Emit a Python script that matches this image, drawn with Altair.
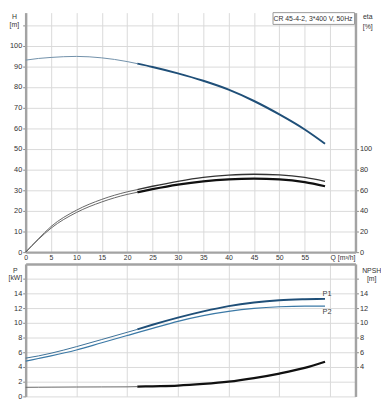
import altair as alt
import pandas as pd

# ---- data ----
q = [0, 2.5, 5, 10, 15, 20, 22, 25, 30, 35, 40, 45, 50, 55, 59]
head = [93.0, 93.8, 94.3, 94.8, 94.1, 92.3, 91.3, 89.7, 86.6, 83.0, 78.7, 73.2, 66.7, 59.4, 52.5]
eta_upper = [0, 12.8, 24.8, 40.6, 51.1, 58.4, 60.6, 63.8, 68.6, 72.4, 74.6, 75.5, 74.9, 72.4, 68.6]
eta_lower = [0, 12.3, 23.2, 38.4, 48.6, 55.9, 58.0, 61.0, 65.4, 68.6, 70.5, 71.1, 70.5, 67.9, 63.8]
p1 = [5.2, 5.5, 5.87, 6.76, 7.73, 8.71, 9.1, 9.73, 10.7, 11.55, 12.27, 12.76, 13.07, 13.2, 13.25]
p2 = [4.8, 5.15, 5.5, 6.3, 7.29, 8.27, 8.66, 9.24, 10.2, 10.98, 11.55, 11.95, 12.18, 12.27, 12.27]
npsh = [1.24, 1.25, 1.26, 1.28, 1.29, 1.3, 1.33, 1.38, 1.47, 1.69, 2.0, 2.49, 3.11, 3.87, 4.71]

q_ticks = [0, 5, 10, 15, 20, 25, 30, 35, 40, 45, 50, 55, 60]
h_ticks = [0, 10, 20, 30, 40, 50, 60, 70, 80, 90, 100, 110]
eta_ticks = [0, 20, 40, 60, 80, 100]
p_ticks = [0, 2, 4, 6, 8, 10, 12, 14, 16]
npsh_ticks = [4, 6, 8, 10, 12, 14, 16]

legend_text = ["CR 45-4-2, 3*400 V, 50Hz"]
curve_labels = ["P1", "P2"]
label_q = [59.4, 59.4]
label_p = [13.9, 11.5]

# ---- tables ----
top = pd.DataFrame({"Q": q, "H": head, "eta1": eta_upper, "eta2": eta_lower})
bot = pd.DataFrame({"Q": q, "P1": p1, "P2": p2, "NPSH": npsh})
lab = pd.DataFrame({"Q": label_q, "P": label_p, "t": curve_labels})
leg = pd.DataFrame({"t": legend_text})

FONT = "Liberation Sans"
GRID = "#d9d9d9"
DOMAIN = "#a3a3a3"
W = 336
H_TOP = 244
H_BOT = 135

qscale = alt.Scale(domain=[0, 65], nice=False, zero=False)

x_top = alt.X(
    "Q:Q", scale=qscale,
    axis=alt.Axis(
        orient="bottom", values=q_ticks, grid=True, gridColor=GRID,
        domainColor=DOMAIN, domainWidth=2.5, ticks=False, labelPadding=2,
        labelFontSize=7,
        labelExpr="datum.value == 60 ? 'Q [m³/h]' : datum.label",
        labelAlign={"condition": {"test": "datum.value == 60", "value": "left"}, "value": "center"},
        title=None,
    ),
)
x_bot = alt.X(
    "Q:Q", scale=qscale,
    axis=alt.Axis(
        orient="top", values=q_ticks, grid=True, gridColor=GRID,
        domainColor=DOMAIN, domainWidth=2.5, ticks=False, labels=False, title=None,
    ),
)

h_axis = alt.Axis(
    values=h_ticks, labelExpr="datum.value > 100 ? '' : datum.label",
    grid=True, gridColor=GRID, domainColor=DOMAIN, domainWidth=2.5,
    tickSize=3, tickColor="#888", labelPadding=1, labelFontSize=7.5,
    title=["H", "[m]"], titleAngle=0, titleAlign="center", titleBaseline="top",
    titleX=-12, titleY=0, titleFontSize=7, titleFontWeight="normal", titleLineHeight=8,
)
h_scale = alt.Scale(domain=[0, 116], nice=False, zero=True)

eta_axis = alt.Axis(
    orient="right", values=eta_ticks, grid=False, domainColor=DOMAIN, domainWidth=2.5,
    tickSize=3, tickColor="#888", labelPadding=1, labelFontSize=7.5,
    title=["eta", "[%]"], titleAngle=0, titleAlign="center", titleBaseline="top",
    titleX=12, titleY=0, titleFontSize=7, titleFontWeight="normal", titleLineHeight=10,
)
eta_scale = alt.Scale(domain=[0, 232], nice=False, zero=True)

p_axis = alt.Axis(
    values=p_ticks, labelExpr="datum.value > 14 ? '' : datum.label",
    grid=True, gridColor=GRID, domainColor=DOMAIN, domainWidth=2.5,
    tickSize=3, tickColor="#888", labelPadding=1, labelFontSize=7.5,
    title=["P", "[kW]"], titleAngle=0, titleAlign="center", titleBaseline="top",
    titleX=-11, titleY=3, titleFontSize=7, titleFontWeight="normal", titleLineHeight=7,
)
p_scale = alt.Scale(domain=[0, 18], nice=False, zero=True)

npsh_axis = alt.Axis(
    orient="right", values=npsh_ticks, labelExpr="datum.value > 14 ? '' : datum.label",
    grid=False, domainColor=DOMAIN, domainWidth=2.5,
    tickSize=3, tickColor="#888", labelPadding=1, labelFontSize=7.5,
    title=["NPSH", "[m]"], titleAngle=0, titleAlign="center", titleBaseline="top",
    titleX=16, titleY=3, titleFontSize=7, titleFontWeight="normal", titleLineHeight=8,
)


def seg(df, lo, hi):
    return alt.Chart(df).transform_filter(f"datum.Q >= {lo} && datum.Q <= {hi}")


# ---- top panel ----
h_thin = seg(top, 0, 22).mark_line(interpolate="monotone", color="#6f8fa8", strokeWidth=1).encode(
    x=x_top, y=alt.Y("H:Q", scale=h_scale, axis=h_axis))
h_thick = seg(top, 22, 60).mark_line(interpolate="monotone", color="#1f4f78", strokeWidth=2).encode(
    x=x_top, y=alt.Y("H:Q", scale=h_scale, axis=h_axis))
leg_box = alt.Chart(leg).mark_rect(fill="white", stroke="#999", strokeWidth=1).encode(
    x=alt.value(252), x2=alt.value(335), y=alt.value(0), y2=alt.value(12))
leg_txt = alt.Chart(leg).mark_text(align="right", baseline="middle", fontSize=7, font=FONT, color="#333").encode(
    x=alt.value(333), y=alt.value(6.5), text="t:N")
h_layer = alt.layer(h_thin, h_thick, leg_box, leg_txt)

e1_thin = seg(top, 0, 22).mark_line(interpolate="monotone", color="#555", strokeWidth=0.9).encode(
    x=x_top, y=alt.Y("eta1:Q", scale=eta_scale, axis=eta_axis))
e1_thick = seg(top, 22, 60).mark_line(interpolate="monotone", color="#333", strokeWidth=1.4).encode(
    x=x_top, y=alt.Y("eta1:Q", scale=eta_scale, axis=eta_axis))
e2_thin = seg(top, 0, 22).mark_line(interpolate="monotone", color="#555", strokeWidth=0.9).encode(
    x=x_top, y=alt.Y("eta2:Q", scale=eta_scale, axis=eta_axis))
e2_thick = seg(top, 22, 60).mark_line(interpolate="monotone", color="#111", strokeWidth=2.3).encode(
    x=x_top, y=alt.Y("eta2:Q", scale=eta_scale, axis=eta_axis))
e_layer = alt.layer(e1_thin, e1_thick, e2_thin, e2_thick)

top_panel = alt.layer(h_layer, e_layer).resolve_scale(y="independent").properties(width=W, height=H_TOP)

# ---- bottom panel ----
p1_thin = seg(bot, 0, 22).mark_line(interpolate="monotone", color="#3a6f97", strokeWidth=1).encode(
    x=x_bot, y=alt.Y("P1:Q", scale=p_scale, axis=p_axis))
p1_thick = seg(bot, 22, 60).mark_line(interpolate="monotone", color="#1f4f78", strokeWidth=2).encode(
    x=x_bot, y=alt.Y("P1:Q", scale=p_scale, axis=p_axis))
p2_line = seg(bot, 0, 60).mark_line(interpolate="monotone", color="#3b79a6", strokeWidth=1.2).encode(
    x=x_bot, y=alt.Y("P2:Q", scale=p_scale, axis=p_axis))
p_text = alt.Chart(lab).mark_text(fontSize=7.5, font=FONT, color="#444").encode(
    x=alt.X("Q:Q", scale=qscale), y=alt.Y("P:Q", scale=p_scale, axis=p_axis), text="t:N")
p_layer = alt.layer(p1_thin, p1_thick, p2_line, p_text)

n_thin = seg(bot, 0, 22).mark_line(interpolate="monotone", color="#666", strokeWidth=1).encode(
    x=x_bot, y=alt.Y("NPSH:Q", scale=p_scale, axis=npsh_axis))
n_thick = seg(bot, 22, 60).mark_line(interpolate="monotone", color="#111", strokeWidth=2.3).encode(
    x=x_bot, y=alt.Y("NPSH:Q", scale=p_scale, axis=npsh_axis))
n_layer = alt.layer(n_thin, n_thick)

bot_panel = alt.layer(p_layer, n_layer).resolve_scale(y="independent").properties(width=W, height=H_BOT)

chart = alt.vconcat(top_panel, bot_panel, spacing=3).properties(
    padding=0, background="white"
).configure_view(stroke=None).configure_axis(
    labelFont=FONT, titleFont=FONT, labelColor="#333", titleColor="#333"
)

chart.save("out.html", embed_options={"renderer": "svg", "actions": False})
